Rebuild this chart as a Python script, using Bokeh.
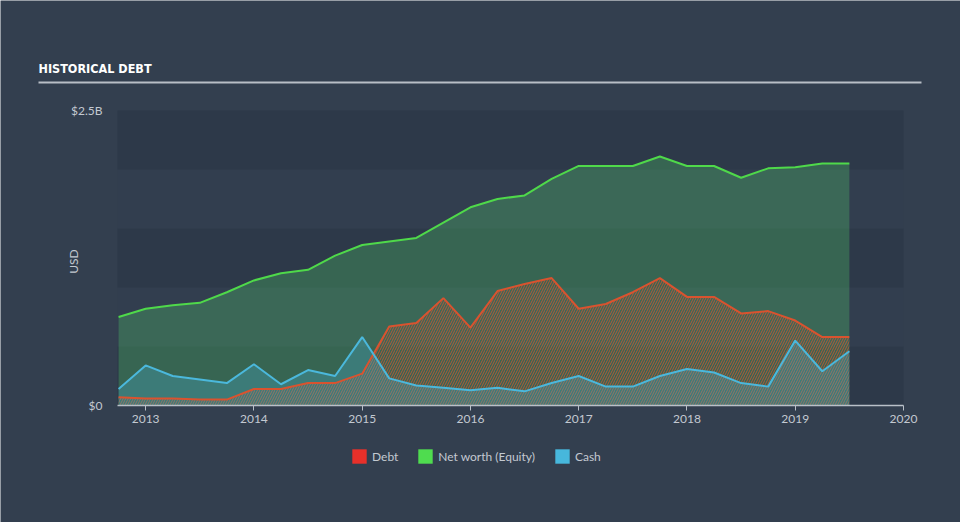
from bokeh.plotting import figure
from bokeh.models import (Range1d, FixedTicker, BoxAnnotation, Legend, LegendItem,
                          ColumnDataSource, LinearAxis, CustomJSTickFormatter)
from bokeh.embed import file_html
from bokeh.resources import INLINE
from bokeh.core.properties import value

# ---- data (USD billions, quarter ends as decimal years) ----
dates = [2012.75, 2013.0, 2013.25, 2013.5, 2013.75, 2014.0, 2014.25, 2014.5, 2014.75,
         2015.0, 2015.25, 2015.5, 2015.75, 2016.0, 2016.25, 2016.5, 2016.75,
         2017.0, 2017.25, 2017.5, 2017.75, 2018.0, 2018.25, 2018.5, 2018.75,
         2019.0, 2019.25, 2019.5]
debt = [0.07, 0.06, 0.06, 0.05, 0.05, 0.14, 0.14, 0.19, 0.19,
        0.27, 0.67, 0.70, 0.91, 0.66, 0.97, 1.03, 1.08,
        0.82, 0.86, 0.96, 1.08, 0.92, 0.92, 0.78, 0.80,
        0.72, 0.58, 0.58]
equity = [0.75, 0.82, 0.85, 0.87, 0.96, 1.06, 1.12, 1.15, 1.27,
          1.36, 1.39, 1.42, 1.55, 1.68, 1.75, 1.78, 1.92,
          2.03, 2.03, 2.03, 2.11, 2.03, 2.03, 1.93, 2.01,
          2.02, 2.05, 2.05]
cash = [0.14, 0.34, 0.25, 0.22, 0.19, 0.35, 0.18, 0.30, 0.25,
        0.58, 0.23, 0.17, 0.15, 0.13, 0.15, 0.12, 0.19,
        0.25, 0.16, 0.16, 0.25, 0.31, 0.28, 0.19, 0.16,
        0.55, 0.29, 0.46]
x_ticks = [2013, 2014, 2015, 2016, 2017, 2018, 2019, 2020]
y_ticks = [0, 2.5]
band_edges = [0, 0.5, 1.0, 1.5, 2.0, 2.5]
x_start, x_end = 2012.74, 2020.0

title_text = "HISTORICAL DEBT"
y_axis_label = "USD"
series_names = ["Debt", "Net worth (Equity)", "Cash"]

# ---- styling ----
BG = "#333f4f"
BAND_DARK = "#2d3949"
BAND_LIGHT = "#323e4f"
TEXT = "#c3c9d1"
AXIS_C = "#b9c0c8"
DEBT_C = "#d9532f"
EQ_C = "#4fd94a"
CASH_C = "#4bb8dc"
LEG_COLORS = ["#e8302a", "#4fdc4f", "#47b7dc"]
FONT = "Lato"

# ---- layout geometry (pixels) ----
W, H = 960, 522
AX_L, AX_R = 117, 903            # pixel columns of x_start / x_end
Y_TOP_PX, Y_ZERO_PX = 110, 405   # pixel rows of 2.5 and 0

sx = (AX_R - AX_L) / (x_end - x_start)
sy = (Y_ZERO_PX - Y_TOP_PX) / (y_ticks[-1] - y_ticks[0])


def px2x(px):
    return x_start + (px - AX_L) / sx


def px2y(py):
    return (Y_ZERO_PX - py) / sy


# the frame fills the whole canvas; axes are pinned inside it with fixed_location
p = figure(width=W, height=H, title=None,
           x_range=Range1d(px2x(0), px2x(W)),
           y_range=Range1d(px2y(H), px2y(0)),
           y_axis_location=None,
           output_backend="svg", toolbar_location=None,
           min_border=0, min_border_left=0, min_border_right=0,
           min_border_top=0, min_border_bottom=0)
p.background_fill_color = BG
p.border_fill_color = BG
p.outline_line_color = None
p.grid.visible = False

# background bands
for i in range(len(band_edges) - 1):
    col = BAND_DARK if i % 2 == 0 else BAND_LIGHT
    p.add_layout(BoxAnnotation(bottom=band_edges[i], top=band_edges[i + 1],
                               left=x_start, right=x_end,
                               fill_color=col, fill_alpha=1.0, line_color=None, level="underlay"))

src = ColumnDataSource(dict(x=dates, debt=debt, equity=equity, cash=cash))

p.varea(x="x", y1=0, y2="equity", source=src, fill_color="#52d66a", fill_alpha=0.28)
p.varea(x="x", y1=0, y2="debt", source=src, fill_alpha=0.0,
        hatch_pattern="/", hatch_color=DEBT_C, hatch_alpha=0.75, hatch_scale=5, hatch_weight=1)
p.varea(x="x", y1=0, y2="cash", source=src, fill_color=CASH_C, fill_alpha=0.28)
p.line(x="x", y="equity", source=src, line_color=EQ_C, line_width=2)
p.line(x="x", y="debt", source=src, line_color=DEBT_C, line_width=2)
p.line(x="x", y="cash", source=src, line_color=CASH_C, line_width=2)

# x axis pinned at y = 0
xa = p.xaxis[0]
xa.fixed_location = 0
xa.bounds = (x_start, x_end)
xa.ticker = FixedTicker(ticks=x_ticks)
xa.axis_line_color = AXIS_C
xa.axis_line_width = 1.5
xa.major_tick_line_color = AXIS_C
xa.major_tick_out = 5
xa.major_tick_in = 0
xa.minor_tick_line_color = None
xa.major_label_text_color = TEXT
xa.major_label_text_font = FONT
xa.major_label_text_font_size = "12px"
xa.major_label_standoff = 4

# y axis pinned at x = x_start
ya = LinearAxis(fixed_location=x_start, ticker=FixedTicker(ticks=y_ticks),
                formatter=CustomJSTickFormatter(code="return tick == 0 ? '$0' : '$' + tick + 'B';"),
                axis_line_color=None, major_tick_line_color=None, minor_tick_line_color=None,
                major_tick_out=0, major_tick_in=0, major_label_standoff=15,
                major_label_text_color=TEXT, major_label_text_font=FONT,
                major_label_text_font_size="12px",
                axis_label=y_axis_label, axis_label_standoff=-13,
                axis_label_text_color=TEXT, axis_label_text_font=FONT,
                axis_label_text_font_size="12px", axis_label_text_font_style="normal")
p.add_layout(ya, "left")

# title + rule
p.text(x=[px2x(38)], y=[px2y(68)], text=[title_text],
       text_font=value("DejaVu Sans Condensed, DejaVu Sans"), text_font_style="bold",
       text_font_size="12.5px", text_color="#ffffff",
       text_baseline="middle", text_align="left")
p.segment(x0=[px2x(38)], y0=[px2y(82)], x1=[px2x(921)], y1=[px2y(82)],
          line_color="#b8bec6", line_width=2)

# legend (swatch renderers hold no visible geometry)
nan = float("nan")
r_leg = []
for c in LEG_COLORS:
    r_leg.append(p.quad(left=[nan], right=[nan], top=[nan], bottom=[nan],
                        fill_color=c, line_color=None))
legend = Legend(items=[LegendItem(label=n, renderers=[r]) for n, r in zip(series_names, r_leg)],
                orientation="horizontal", location=(350, 57),
                background_fill_alpha=0, border_line_color=None,
                label_text_color=TEXT, label_text_font=FONT, label_text_font_size="12px",
                glyph_width=18, glyph_height=18, label_height=18, label_standoff=4,
                spacing=18, padding=0, margin=0)
p.add_layout(legend, "center")

open("out.html", "w").write(file_html(p, INLINE))
